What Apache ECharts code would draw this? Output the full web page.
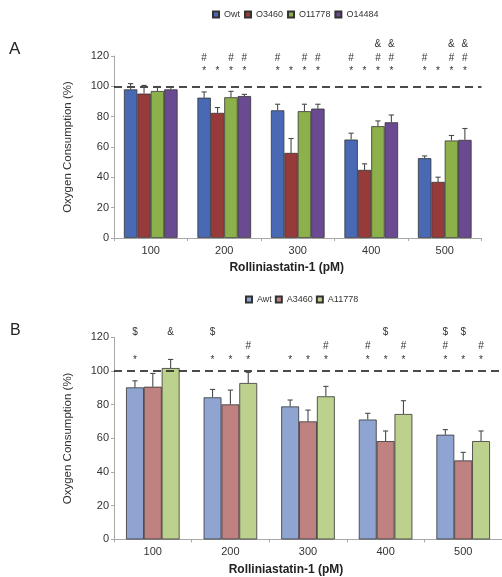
<!DOCTYPE html>
<html><head><meta charset="utf-8">
<script src="https://cdn.jsdelivr.net/npm/echarts@6/dist/echarts.min.js"></script>
<style>html,body{margin:0;padding:0;background:#fff}#c{width:502px;height:577px}</style>
</head><body><div id="c"></div>
<script>
// ---- data ----
const categories = ['100', '200', '300', '400', '500'];
const yTicks = [0, 20, 40, 60, 80, 100, 120];

// Panel A
const namesA = ['Owt', 'O3460', 'O11778', 'O14484'];
const owt    = [98.0, 92.5, 84.2, 64.9, 52.6];
const o3460  = [95.2, 82.5, 56.1, 44.9, 37.0];
const o11778 = [96.9, 92.8, 83.6, 73.7, 64.3];
const o14484 = [98.0, 93.6, 85.3, 76.3, 64.7];
const owtErr    = [3.8, 3.8, 4.0, 4.2, 1.5];
const o3460Err  = [5.4, 3.5, 9.5, 4.0, 3.1];
const o11778Err = [3.0, 3.9, 4.6, 3.5, 3.3];
const o14484Err = [1.8, 1.1, 2.9, 4.8, 7.5];
// significance marks A (per series, per category)
const starA = [[0,1,1,1,1],[0,1,1,1,1],[0,1,1,1,1],[0,1,1,1,1]];
const hashA = [[0,1,1,1,1],[0,0,0,0,0],[0,1,1,1,1],[0,1,1,1,1]];
const ampA  = [[0,0,0,0,0],[0,0,0,0,0],[0,0,0,1,1],[0,0,0,1,1]];

// Panel B
const namesB = ['Awt', 'A3460', 'A11778'];
const awt    = [90.3, 84.4, 79.0, 71.2, 62.2];
const a3460  = [90.7, 80.2, 70.1, 58.4, 46.9];
const a11778 = [101.8, 92.9, 85.0, 74.5, 58.4];
const awtErr    = [3.9, 4.7, 3.8, 3.7, 3.0];
const a3460Err  = [7.9, 8.5, 6.7, 6.0, 4.8];
const a11778Err = [5.1, 6.3, 5.9, 7.9, 6.0];
const starB   = [[1,1,1,1,1],[0,1,1,1,1],[0,1,1,1,1]];
const hashB   = [[0,0,0,1,1],[0,0,0,0,0],[0,1,1,1,1]];
const dollarB = [[1,1,0,0,1],[0,0,0,1,1],[0,0,0,0,0]];
const ampB    = [[0,0,0,0,0],[0,0,0,0,0],[1,0,0,0,0]];

const markSymbols = ['*', '#', '&', '$'];
// mark row levels (in axis units)
const rowsA = {star: 110.0, hash: 118.5, amp: 127.5};
const rowsB = {star: 106.5, hash: 115.0, dollar: 123.3, amp: 123.3};

// ---- styling ----
const FONT = 'Liberation Sans, Arial, sans-serif';
const colorsA = ['#4a69b4', '#973b3a', '#8db14a', '#6a4a90'];
const colorsB = ['#8fa4d1', '#c08281', '#bdd18e'];
const gapA = 0.27, gapB = 0.31;

function errRender(n, gap) {
  return function (params, api) {
    const cat = api.value(0), s = api.value(1), lo = api.value(2), hi = api.value(3);
    const band = api.size([1, 0])[0];
    const gw = band * (1 - gap), bw = gw / n;
    const p0 = api.coord([cat, lo]), p1 = api.coord([cat, hi]);
    const x = p0[0] - gw / 2 + bw * (s + 0.5);
    const st = {stroke: '#4a4a4a', lineWidth: 1.1};
    return {type: 'group', children: [
      {type: 'line', shape: {x1: x, y1: p0[1], x2: x, y2: p1[1]}, style: st},
      {type: 'line', shape: {x1: x - 2.6, y1: p1[1], x2: x + 2.6, y2: p1[1]}, style: st}
    ]};
  };
}
function markRender(n, gap) {
  return function (params, api) {
    const cat = api.value(0), s = api.value(1), row = api.value(2), sym = api.value(3);
    const band = api.size([1, 0])[0];
    const gw = band * (1 - gap), bw = gw / n;
    const p = api.coord([cat, row]);
    const x = p[0] - gw / 2 + bw * (s + 0.5);
    return {type: 'text', x: x, y: p[1], style: {
      text: markSymbols[sym], fill: '#333', fontSize: 10, fontFamily: FONT,
      align: 'center', verticalAlign: 'middle', textAlign: 'center', textVerticalAlign: 'middle'}};
  };
}
function errData(vals, errs) {
  const d = [];
  vals.forEach((v, s) => v.forEach((y, c) => d.push([c, s, y, y + errs[s][c]])));
  return d;
}
function markData(list) {
  const d = [];
  list.forEach(([flags, row, sym]) => flags.forEach((f, s) => f.forEach((on, c) => { if (on) d.push([c, s, row, sym]); })));
  return d;
}

function xAxis(gridIndex, padRight) {
  return {
    type: 'category', gridIndex, data: categories,
    axisLine: {lineStyle: {color: '#a8a8a8', width: 1}},
    axisTick: {show: true, length: 3, lineStyle: {color: '#a8a8a8'}},
    axisLabel: {color: '#333', fontSize: 11, fontFamily: FONT, margin: 7},
    name: 'Rolliniastatin-1 (pM)', nameLocation: 'middle', nameGap: 24,
    nameTextStyle: {color: '#222', fontSize: 12, fontWeight: 'bold', fontFamily: FONT, padding: [0, padRight, 0, 0]}
  };
}
function yAxis(gridIndex) {
  return {
    type: 'value', gridIndex, min: yTicks[0], max: yTicks[yTicks.length - 1], interval: 20,
    axisLine: {show: true, lineStyle: {color: '#a8a8a8', width: 1}},
    axisTick: {show: true, length: 3, lineStyle: {color: '#a8a8a8'}},
    splitLine: {show: false},
    axisLabel: {color: '#333', fontSize: 11, fontFamily: FONT, margin: 5},
    name: 'Oxygen Consumption (%)', nameLocation: 'middle', nameGap: 40, nameRotate: 90,
    nameTextStyle: {color: '#333', fontSize: 11.5, fontFamily: FONT}
  };
}
const dashLine = {
  silent: true, symbol: 'none', label: {show: false},
  lineStyle: {color: '#111', type: [8, 5], width: 1.6},
  data: [{yAxis: 100}]
};

const valsA = [owt, o3460, o11778, o14484];
const errsA = [owtErr, o3460Err, o11778Err, o14484Err];
const valsB = [awt, a3460, a11778];
const errsB = [awtErr, a3460Err, a11778Err];

const series = [];
valsA.forEach((v, i) => series.push({
  type: 'bar', name: namesA[i], xAxisIndex: 0, yAxisIndex: 0, data: v,
  barGap: '0%', barCategoryGap: (gapA * 100) + '%',
  itemStyle: {color: colorsA[i], borderColor: '#333', borderWidth: 0.8},
  markLine: i === 0 ? dashLine : undefined
}));
valsB.forEach((v, i) => series.push({
  type: 'bar', name: namesB[i], xAxisIndex: 1, yAxisIndex: 1, data: v,
  barGap: '0%', barCategoryGap: (gapB * 100) + '%',
  itemStyle: {color: colorsB[i], borderColor: '#333', borderWidth: 0.8},
  markLine: i === 0 ? dashLine : undefined
}));
series.push({type: 'custom', xAxisIndex: 0, yAxisIndex: 0, z: 5, silent: true,
  renderItem: errRender(4, gapA), encode: {x: 0, y: [2, 3]}, data: errData(valsA, errsA)});
series.push({type: 'custom', xAxisIndex: 1, yAxisIndex: 1, z: 5, silent: true,
  renderItem: errRender(3, gapB), encode: {x: 0, y: [2, 3]}, data: errData(valsB, errsB)});
series.push({type: 'custom', xAxisIndex: 0, yAxisIndex: 0, z: 6, silent: true, clip: false,
  renderItem: markRender(4, gapA), encode: {x: 0, y: 2},
  data: markData([[starA, rowsA.star, 0], [hashA, rowsA.hash, 1], [ampA, rowsA.amp, 2]])});
series.push({type: 'custom', xAxisIndex: 1, yAxisIndex: 1, z: 6, silent: true, clip: false,
  renderItem: markRender(3, gapB), encode: {x: 0, y: 2},
  data: markData([[starB, rowsB.star, 0], [hashB, rowsB.hash, 1], [dollarB, rowsB.dollar, 3], [ampB, rowsB.amp, 2]])});

const chart = echarts.init(document.getElementById('c'), null, {renderer: 'canvas'});
chart.setOption({
  animation: false,
  backgroundColor: '#fff',
  textStyle: {fontFamily: FONT},
  grid: [
    {left: 114, top: 56, width: 367.5, height: 182, containLabel: false},
    {left: 114, top: 337.4, width: 391, height: 202, containLabel: false}
  ],
  xAxis: [xAxis(0, 22), xAxis(1, 44)],
  yAxis: [yAxis(0), yAxis(1)],
  legend: [
    {data: namesA, left: 212, top: 10, padding: 0, icon: 'rect', itemWidth: 6, itemHeight: 6, itemGap: 4,
      textStyle: {fontSize: 9, color: '#333', fontFamily: FONT}},
    {data: namesB, left: 245, top: 295, padding: 0, icon: 'rect', itemWidth: 6, itemHeight: 6, itemGap: 3,
      textStyle: {fontSize: 9, color: '#333', fontFamily: FONT}}
  ],
  graphic: [
    {type: 'text', left: 9, top: 41, style: {text: 'A', fontSize: 17, fill: '#222', fontFamily: FONT}},
    {type: 'text', left: 10, top: 323, style: {text: 'B', fontSize: 16, fill: '#222', fontFamily: FONT}}
  ],
  series
});
</script></body></html>
